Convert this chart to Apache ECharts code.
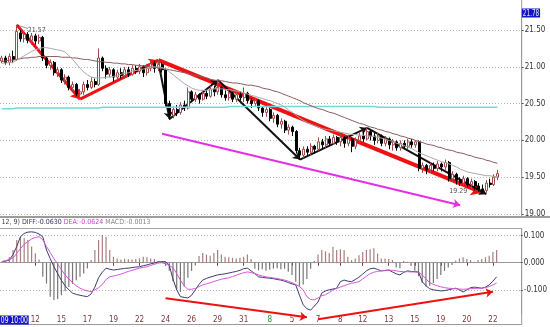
<!DOCTYPE html>
<html>
<head>
<meta charset="utf-8">
<script src="https://cdn.jsdelivr.net/npm/echarts@6/dist/echarts.min.js"></script>
<style>
  html, body { margin: 0; padding: 0; background: #ffffff; }
  #chart { width: 550px; height: 327px; }
</style>
</head>
<body>
<div id="chart"></div>
<script>
// ---- price bars: [open, close, low, high] ----
const bars = [
  [21.08,21.12,21.05,21.15],[21.12,21.06,21.03,21.15],[21.06,21.14,21.02,21.18],[21.14,21.10,21.05,21.22],[21.10,21.48,21.08,21.57],
  [21.46,21.38,21.34,21.50],[21.38,21.44,21.33,21.48],[21.44,21.36,21.32,21.47],[21.36,21.42,21.30,21.46],[21.42,21.35,21.30,21.45],
  [21.35,21.40,21.31,21.44],[21.40,21.12,21.08,21.42],[21.12,21.02,20.98,21.14],[21.02,21.06,20.96,21.10],[21.06,20.92,20.88,21.08],
  [20.92,20.96,20.86,21.00],[20.96,20.82,20.78,20.98],[20.82,20.86,20.76,20.90],[20.86,20.72,20.68,20.88],[20.72,20.76,20.66,20.80],
  [20.76,20.63,20.60,20.78],[20.63,20.66,20.56,20.70],[20.66,20.76,20.62,20.80],[20.76,20.72,20.68,20.82],[20.72,20.80,20.70,20.86],
  [20.80,20.76,20.72,20.84],[20.76,21.12,20.74,21.25],[21.12,20.98,20.94,21.14],[20.98,20.90,20.84,21.02],[20.90,20.96,20.86,21.00],
  [20.96,20.86,20.80,20.98],[20.86,20.92,20.82,20.96],[20.92,20.88,20.84,20.98],[20.88,20.96,20.84,21.00],[20.96,20.90,20.86,21.00],
  [20.90,20.98,20.88,21.02],[20.98,20.94,20.90,21.02],[20.94,21.00,20.90,21.04],[21.00,20.92,20.86,21.02],[20.92,20.98,20.88,21.04],
  [20.98,21.04,20.94,21.08],[21.04,20.98,20.92,21.08],[20.98,21.03,20.94,21.09],[21.03,20.96,20.92,21.06],[20.96,20.50,20.46,20.98],
  [20.50,20.34,20.28,20.54],[20.34,20.42,20.30,20.46],[20.42,20.38,20.33,20.48],[20.38,20.48,20.35,20.52],[20.48,20.44,20.40,20.54],
  [20.44,20.66,20.42,20.72],[20.66,20.56,20.52,20.68],[20.56,20.62,20.52,20.66],[20.62,20.56,20.50,20.64],[20.56,20.64,20.54,20.68],
  [20.64,20.60,20.56,20.68],[20.60,20.70,20.58,20.74],[20.70,20.66,20.60,20.74],[20.66,20.72,20.62,20.82],[20.72,20.62,20.58,20.74],
  [20.62,20.58,20.54,20.68],[20.58,20.64,20.54,20.68],[20.64,20.56,20.52,20.66],[20.56,20.62,20.52,20.66],[20.62,20.58,20.54,20.66],
  [20.58,20.64,20.52,20.72],[20.64,20.54,20.50,20.66],[20.54,20.50,20.44,20.58],[20.50,20.54,20.46,20.58],[20.54,20.44,20.40,20.56],
  [20.44,20.38,20.32,20.46],[20.38,20.42,20.32,20.46],[20.42,20.30,20.26,20.44],[20.30,20.34,20.24,20.38],[20.34,20.22,20.18,20.36],
  [20.22,20.26,20.16,20.30],[20.26,20.14,20.10,20.28],[20.14,20.18,20.08,20.22],[20.18,20.12,20.06,20.20],[20.12,19.86,19.82,20.14],
  [19.86,19.80,19.74,19.90],[19.80,19.88,19.76,19.92],[19.88,19.84,19.78,19.92],[19.84,19.92,19.80,19.96],[19.92,19.88,19.82,19.94],
  [19.88,19.98,19.86,20.04],[19.98,19.94,19.88,20.02],[19.94,20.02,19.90,20.06],[20.02,19.96,19.92,20.06],[19.96,20.04,19.94,20.08],
  [20.04,19.98,19.94,20.06],[19.98,20.04,19.92,20.08],[20.04,19.96,19.90,20.06],[19.96,20.02,19.92,20.08],[20.02,19.92,19.84,20.04],
  [19.92,20.00,19.88,20.04],[20.00,20.06,19.96,20.10],[20.06,20.02,19.98,20.12],[20.02,20.12,20.00,20.17],[20.12,20.06,20.00,20.14],
  [20.06,20.00,19.94,20.10],[20.00,20.06,19.96,20.10],[20.06,19.96,19.92,20.08],[19.96,20.02,19.92,20.06],[20.02,19.94,19.88,20.04],
  [19.94,19.98,19.86,20.02],[19.98,19.90,19.86,20.00],[19.90,19.96,19.86,20.00],[19.96,19.92,19.88,20.00],[19.92,19.98,19.88,20.02],
  [19.98,19.94,19.90,20.02],[19.94,19.98,19.90,20.00],[19.98,19.62,19.58,20.00],[19.62,19.66,19.56,19.70],[19.66,19.60,19.54,19.68],
  [19.60,19.66,19.56,19.70],[19.66,19.62,19.58,19.70],[19.62,19.68,19.58,19.72],[19.68,19.64,19.58,19.70],[19.64,19.70,19.60,19.74],
  [19.70,19.48,19.44,19.72],[19.48,19.54,19.44,19.58],[19.54,19.46,19.40,19.56],[19.46,19.42,19.38,19.50],[19.42,19.48,19.38,19.52],
  [19.48,19.40,19.36,19.50],[19.40,19.44,19.34,19.48],[19.44,19.38,19.32,19.46],[19.38,19.34,19.30,19.42],[19.34,19.32,19.30,19.40],
  [19.32,19.42,19.29,19.46],[19.42,19.40,19.36,19.48],[19.40,19.50,19.38,19.54],[19.50,19.55,19.46,19.60]
];

// ---- moving averages ----
const maShort = [
  21.05,21.05,21.06,21.06,21.09,21.12,21.15,21.18,21.21,21.23,
  21.25,21.26,21.26,21.25,21.24,21.23,21.22,21.20,21.15,21.10,
  21.04,20.98,20.93,20.89,20.86,20.85,20.85,20.85,20.86,20.86,
  20.87,20.88,20.90,20.91,20.92,20.94,20.95,20.96,20.97,20.98,
  21.00,21.00,21.00,20.99,20.97,20.93,20.89,20.85,20.81,20.77,
  20.74,20.71,20.69,20.68,20.68,20.68,20.69,20.70,20.70,20.70,
  20.69,20.69,20.68,20.67,20.66,20.64,20.63,20.61,20.60,20.58,
  20.57,20.55,20.54,20.52,20.50,20.48,20.45,20.41,20.38,20.34,
  20.30,20.27,20.24,20.22,20.20,20.18,20.16,20.15,20.14,20.13,
  20.12,20.11,20.10,20.09,20.08,20.08,20.07,20.07,20.06,20.06,
  20.05,20.04,20.03,20.01,20.00,19.98,19.96,19.95,19.93,19.91,
  19.89,19.86,19.83,19.81,19.79,19.77,19.75,19.73,19.71,19.70,
  19.68,19.66,19.64,19.61,19.59,19.57,19.56,19.55,19.54,19.53,
  19.52,19.52,19.51,19.51
];
const maLong = [
  21.07,21.08,21.09,21.09,21.10,21.11,21.12,21.12,21.13,21.13,
  21.14,21.14,21.14,21.14,21.14,21.14,21.13,21.13,21.13,21.12,
  21.12,21.11,21.10,21.10,21.09,21.08,21.07,21.07,21.06,21.06,
  21.05,21.05,21.04,21.04,21.03,21.03,21.02,21.02,21.01,21.01,
  21.00,20.99,20.99,20.98,20.97,20.96,20.95,20.94,20.93,20.92,
  20.91,20.89,20.88,20.87,20.86,20.85,20.83,20.82,20.81,20.81,
  20.80,20.79,20.78,20.78,20.77,20.76,20.75,20.75,20.74,20.73,
  20.71,20.70,20.69,20.67,20.66,20.64,20.62,20.60,20.58,20.56,
  20.54,20.51,20.49,20.47,20.45,20.43,20.42,20.40,20.38,20.37,
  20.35,20.33,20.31,20.29,20.27,20.25,20.23,20.22,20.20,20.18,
  20.17,20.15,20.14,20.12,20.11,20.09,20.08,20.06,20.05,20.03,
  20.02,20.00,19.98,19.97,19.95,19.94,19.93,19.91,19.90,19.88,
  19.87,19.86,19.84,19.83,19.82,19.80,19.79,19.77,19.76,19.75,
  19.73,19.72,19.70,19.69
];
const maBase = [
  20.43,20.43,20.43,20.43,20.44,20.44,20.44,20.44,20.44,20.44,
  20.44,20.44,20.44,20.44,20.44,20.44,20.44,20.44,20.44,20.44,
  20.44,20.44,20.44,20.44,20.44,20.44,20.44,20.45,20.45,20.45,
  20.45,20.45,20.45,20.45,20.45,20.45,20.45,20.45,20.45,20.45,
  20.45,20.45,20.45,20.45,20.45,20.45,20.45,20.45,20.45,20.45,
  20.45,20.45,20.45,20.45,20.45,20.45,20.45,20.45,20.45,20.45,
  20.45,20.46,20.46,20.46,20.46,20.46,20.46,20.46,20.46,20.46,
  20.46,20.46,20.46,20.46,20.46,20.46,20.46,20.46,20.46,20.46,
  20.46,20.46,20.46,20.46,20.46,20.46,20.46,20.46,20.46,20.46,
  20.46,20.46,20.46,20.46,20.46,20.46,20.46,20.46,20.46,20.46,
  20.46,20.45,20.45,20.45,20.45,20.45,20.45,20.45,20.45,20.45,
  20.45,20.45,20.45,20.45,20.45,20.45,20.45,20.45,20.45,20.45,
  20.45,20.45,20.45,20.45,20.45,20.45,20.45,20.45,20.45,20.45,
  20.45,20.45,20.45,20.45
];

// ---- MACD(26, 12, 9) ----
const diff = [
  0.004,0.006,0.010,0.030,0.060,0.096,0.108,0.113,0.114,0.112,
  0.106,0.096,0.047,0.015,-0.015,-0.040,-0.065,-0.085,-0.100,-0.112,
  -0.117,-0.120,-0.123,-0.125,-0.115,-0.090,-0.055,-0.035,-0.020,-0.024,
  -0.027,-0.025,-0.023,-0.021,-0.020,-0.018,-0.016,-0.015,-0.011,-0.008,
  -0.004,-0.001,0.003,0.004,0.004,-0.010,-0.060,-0.100,-0.125,-0.128,
  -0.130,-0.120,-0.100,-0.080,-0.064,-0.058,-0.053,-0.049,-0.045,-0.043,
  -0.041,-0.038,-0.035,-0.032,-0.028,-0.022,-0.020,-0.030,-0.040,-0.052,
  -0.054,-0.056,-0.057,-0.059,-0.062,-0.064,-0.068,-0.073,-0.078,-0.082,
  -0.120,-0.155,-0.170,-0.175,-0.160,-0.145,-0.112,-0.104,-0.100,-0.097,
  -0.094,-0.070,-0.064,-0.068,-0.070,-0.062,-0.053,-0.042,-0.030,-0.022,
  -0.020,-0.025,-0.030,-0.029,-0.027,-0.034,-0.041,-0.045,-0.036,-0.030,
  -0.032,-0.033,-0.034,-0.070,-0.085,-0.096,-0.100,-0.102,-0.104,-0.103,
  -0.100,-0.097,-0.094,-0.100,-0.108,-0.100,-0.092,-0.090,-0.092,-0.094,
  -0.090,-0.082,-0.068,-0.052
];
const dea = [
  0.004,0.008,0.012,0.017,0.035,0.052,0.068,0.078,0.088,0.093,
  0.096,0.085,0.060,0.038,0.015,-0.005,-0.025,-0.045,-0.060,-0.073,
  -0.085,-0.094,-0.100,-0.104,-0.107,-0.100,-0.092,-0.080,-0.062,-0.052,
  -0.049,-0.046,-0.042,-0.037,-0.032,-0.028,-0.024,-0.020,-0.017,-0.015,
  -0.010,-0.006,-0.001,0.000,-0.004,-0.010,-0.018,-0.040,-0.064,-0.085,
  -0.098,-0.098,-0.095,-0.088,-0.082,-0.078,-0.074,-0.069,-0.065,-0.061,
  -0.058,-0.056,-0.051,-0.046,-0.041,-0.037,-0.034,-0.036,-0.040,-0.045,
  -0.049,-0.052,-0.054,-0.056,-0.058,-0.061,-0.064,-0.068,-0.074,-0.080,
  -0.088,-0.100,-0.125,-0.136,-0.137,-0.130,-0.122,-0.118,-0.110,-0.100,
  -0.095,-0.090,-0.085,-0.080,-0.076,-0.073,-0.070,-0.060,-0.050,-0.040,
  -0.035,-0.032,-0.030,-0.028,-0.027,-0.028,-0.030,-0.032,-0.033,-0.033,
  -0.034,-0.034,-0.035,-0.045,-0.060,-0.073,-0.080,-0.085,-0.089,-0.092,
  -0.094,-0.095,-0.096,-0.097,-0.098,-0.097,-0.096,-0.095,-0.094,-0.094,
  -0.092,-0.088,-0.082,-0.075
];
const macdHist = [
  0.000,0.005,0.020,0.047,0.084,0.096,0.090,0.084,0.060,0.035,
  0.012,-0.052,-0.077,-0.126,-0.138,-0.134,-0.120,-0.105,-0.090,-0.078,
  -0.065,-0.052,-0.040,-0.021,0.010,0.047,0.084,0.102,0.096,0.047,
  0.022,0.016,0.012,0.015,0.013,0.012,0.014,0.016,0.022,0.020,
  0.016,0.014,0.006,0.004,-0.012,-0.030,-0.068,-0.100,-0.108,-0.088,
  -0.055,-0.030,-0.010,0.025,0.036,0.030,0.026,0.036,0.047,0.030,
  0.022,0.020,0.018,0.016,0.018,0.022,0.030,0.014,-0.022,-0.028,
  -0.024,-0.030,-0.026,-0.022,-0.020,-0.024,-0.022,-0.033,-0.045,-0.070,
  -0.088,-0.080,-0.060,-0.022,0.006,0.030,0.047,0.042,0.036,0.059,
  0.047,0.050,0.047,0.022,0.010,0.016,0.028,0.040,0.047,0.050,
  0.053,0.034,0.016,0.016,0.014,0.010,-0.018,-0.020,0.006,0.004,
  -0.012,-0.030,-0.050,-0.075,-0.088,-0.085,-0.075,-0.060,-0.045,-0.030,
  -0.018,-0.008,0.008,0.016,0.020,0.014,0.010,0.004,0.010,0.014,
  0.020,0.026,0.040,0.047
];

// ---- time axis ----
const slotCount = 140;                 // bar slots on the axis (last few are still empty)
const tickBars = [9,16,23,30,37,44,51,58,65,72,78,85,91,97,104,111,118,125,132];
const tickDays = ['12','15','17','19','22','24','26','29','31','8','5','7','8','12','13','15','19','20','22'];
const monthStartBar = 72;              // first bar of the new month
const cursorTime = '09 10:00';
const cursorPrice = 21.78;

// ---- drawn trend annotations: [bar, price] ----
const redSwings = [[[4,21.57],[21,20.56]], [[21,20.56],[42,21.09]]];
const redTrend = [[42,21.09],[129,19.29]];
const blackPath = [[42,21.06],[45,20.29],[58,20.82],[80,19.74],[98,20.17],[130,19.27]];
const magentaTrend = [[43,20.09],[123,19.12]];
const macdArrows = [[[44,-0.131],[82,-0.2015]], [[85,-0.209],[132,-0.107]]];
const peakBar = 4, lowBar = 130;

const legendText = { params: '(26, 12, 9)', diff: '-0.0630', dea: '-0.0624', macd: '-0.0013' };

// ---- build ----
const categories = Array.from({ length: slotCount }, () => '');
tickBars.forEach((b, k) => { categories[b] = tickDays[k]; });

const FONT = "'Liberation Sans Narrow', 'DejaVu Sans Condensed', 'Liberation Sans', sans-serif";
const plotRight = 28.3;

const chart = echarts.init(document.getElementById('chart'), null, { renderer: 'canvas' });

function segs(path) {
  const out = [];
  for (let k = 0; k < path.length - 1; k++) out.push({ coords: [path[k], path[k + 1]] });
  return out;
}

const arrowBase = { type: 'lines', coordinateSystem: 'cartesian2d', clip: false, silent: true,
  symbol: ['none', 'arrow'], zlevel: 0 };

chart.setOption({
  animation: false,
  backgroundColor: '#ffffff',
  grid: [
    { left: 0, right: plotRight, top: 9.4, height: 204.6 },
    { left: 0, right: plotRight, top: 228.6, height: 85.6 }
  ],
  xAxis: [
    { type: 'category', gridIndex: 0, data: categories, boundaryGap: true,
      axisLine: { show: false }, axisTick: { show: false }, axisLabel: { show: false }, splitLine: { show: false } },
    { type: 'category', gridIndex: 1, data: categories, boundaryGap: true,
      axisLine: { show: true, lineStyle: { color: '#9a9a9a', width: 1 } },
      axisTick: { show: true, alignWithLabel: true, length: 3, interval: (i, v) => v !== '', lineStyle: { color: '#7a3a3a' } },
      axisLabel: { show: true, interval: (i, v) => v !== '', margin: 2, fontSize: 8, fontFamily: FONT, color: '#803838',
        formatter: (v, i) => (i === monthStartBar ? '{g|' + v + '}' : v),
        rich: { g: { color: '#2a8a2a', fontSize: 8, fontFamily: FONT } } },
      splitLine: { show: false } }
  ],
  yAxis: [
    { type: 'value', gridIndex: 0, position: 'right', min: 19, max: cursorPrice, interval: 0.5,
      axisLine: { show: true, lineStyle: { color: '#9a9a9a' } },
      axisTick: { show: true, length: 2, lineStyle: { color: '#555' } },
      axisLabel: { fontSize: 8, fontFamily: FONT, color: '#333', margin: 3, showMaxLabel: false,
        formatter: v => v.toFixed(2) },
      splitLine: { show: true, showMaxLine: false, lineStyle: { color: '#b8b8b8', type: [1, 2] } } },
    { type: 'value', gridIndex: 1, position: 'right', min: -0.19, max: 0.126, splitNumber: 3,
      axisLine: { show: true, lineStyle: { color: '#9a9a9a' } },
      axisTick: { show: true, length: 2, lineStyle: { color: '#555' } },
      axisLabel: { fontSize: 8, fontFamily: FONT, color: '#333', margin: 3, showMinLabel: false, showMaxLabel: false,
        formatter: v => v.toFixed(3) },
      splitLine: { show: true, showMinLine: false, showMaxLine: false, lineStyle: { color: '#b8b8b8', type: [1, 2] } } }
  ],
  series: [
    { name: 'base', type: 'line', xAxisIndex: 0, yAxisIndex: 0, data: maBase, symbol: 'none',
      lineStyle: { color: '#74d9d9', width: 1.5 }, silent: true },
    { name: 'maLong', type: 'line', xAxisIndex: 0, yAxisIndex: 0, data: maLong, symbol: 'none',
      lineStyle: { color: '#8e5c5c', width: 1 }, silent: true },
    { name: 'maShort', type: 'line', xAxisIndex: 0, yAxisIndex: 0, data: maShort, symbol: 'none',
      lineStyle: { color: '#a9a9a9', width: 1 }, silent: true },
    { name: 'price', type: 'candlestick', xAxisIndex: 0, yAxisIndex: 0, data: bars, barWidth: 2.5,
      itemStyle: { color: '#ffffff', color0: '#000000', borderColor: '#a04a4a', borderColor0: '#000000', borderWidth: 1 } },
    // price labels at the swing extremes
    { type: 'scatter', xAxisIndex: 0, yAxisIndex: 0, symbolSize: 0.1, itemStyle: { color: 'rgba(0,0,0,0)' }, silent: true,
      data: [[peakBar, bars[peakBar][3]]],
      label: { show: true, position: 'right', distance: 11, offset: [0, 5], fontSize: 7, fontFamily: FONT, color: '#222',
        formatter: p => p.value[1].toFixed(2) } },
    { type: 'scatter', xAxisIndex: 0, yAxisIndex: 0, symbolSize: 0.1, itemStyle: { color: 'rgba(0,0,0,0)' }, silent: true,
      data: [[lowBar, bars[lowBar][2]]],
      label: { show: true, position: 'left', distance: 19, offset: [0, -1], fontSize: 7, fontFamily: FONT, color: '#222',
        formatter: p => p.value[1].toFixed(2) } },
    Object.assign({}, arrowBase, { xAxisIndex: 0, yAxisIndex: 0, symbol: ['none', 'none'],
      lineStyle: { color: '#333', width: 1 }, data: [{ coords: [[peakBar, bars[peakBar][3]], [peakBar + 3, 21.52]] }] }),
    Object.assign({}, arrowBase, { xAxisIndex: 0, yAxisIndex: 0, symbolSize: 9,
      lineStyle: { color: '#ee1111', width: 3, opacity: 1 }, data: redSwings.map(c => ({ coords: c })) }),
    Object.assign({}, arrowBase, { xAxisIndex: 0, yAxisIndex: 0, symbolSize: 11,
      lineStyle: { color: '#ee1111', width: 4, opacity: 1 }, data: [{ coords: redTrend }] }),
    Object.assign({}, arrowBase, { xAxisIndex: 0, yAxisIndex: 0, symbolSize: 7,
      lineStyle: { color: '#111111', width: 2, opacity: 1 }, data: segs(blackPath) }),
    Object.assign({}, arrowBase, { xAxisIndex: 0, yAxisIndex: 0, symbolSize: 7,
      lineStyle: { color: '#e62ee6', width: 2, opacity: 1 }, data: [{ coords: magentaTrend }] }),

    { name: 'MACD', type: 'bar', xAxisIndex: 1, yAxisIndex: 1, data: macdHist, barWidth: 1.2, silent: true,
      itemStyle: { color: p => (p.value >= 0 ? '#a67f7f' : '#767676') } },
    { name: 'DIFF', type: 'line', xAxisIndex: 1, yAxisIndex: 1, data: diff, symbol: 'none', silent: true,
      lineStyle: { color: '#3c3c70', width: 1 } },
    { name: 'DEA', type: 'line', xAxisIndex: 1, yAxisIndex: 1, data: dea, symbol: 'none', silent: true,
      lineStyle: { color: '#d45ad4', width: 1 } },
    Object.assign({}, arrowBase, { xAxisIndex: 1, yAxisIndex: 1, symbolSize: 7, z: 10,
      lineStyle: { color: '#ee1111', width: 2, opacity: 1 }, data: macdArrows.map(c => ({ coords: c })) })
  ],
  graphic: [
    // panel frames
    { type: 'rect', shape: { x: 0, y: 216, width: 550, height: 2 }, style: { fill: '#9c9c9c' }, silent: true },
    { type: 'line', shape: { x1: 0, y1: 228.5, x2: 522, y2: 228.5 }, style: { stroke: '#a4a4a4', lineWidth: 1 }, silent: true },
    { type: 'line', shape: { x1: 521.7, y1: 0, x2: 521.7, y2: 216 }, style: { stroke: '#9a9a9a', lineWidth: 1 }, silent: true },
    { type: 'line', shape: { x1: 521.7, y1: 228.5, x2: 521.7, y2: 325 }, style: { stroke: '#9a9a9a', lineWidth: 1 }, silent: true },
    { type: 'line', shape: { x1: 0, y1: 324.5, x2: 522, y2: 324.5 }, style: { stroke: '#9a9a9a', lineWidth: 1 }, silent: true },
    // cursor readouts (condensed boxes)
    { type: 'text', x: 0, y: 315.5, scaleX: 0.84, z: 100, silent: true,
      style: { text: cursorTime, font: '8px ' + FONT, fill: '#ffffff', backgroundColor: '#1515c8', padding: [1, 1, 0, 1] } },
    { type: 'text', x: 522, y: 8.5, scaleX: 0.8, z: 100, silent: true,
      style: { text: cursorPrice.toFixed(2), font: '8px ' + FONT, fill: '#e8e8ff', backgroundColor: '#1515c8', padding: [1, 1, 0, 1] } },
    // indicator legend line
    { type: 'text', x: -13, y: 218.5, z: 100, silent: true,
      style: {
        text: '{k|' + legendText.params + '} {d|DIFF:' + legendText.diff + '} {e|DEA:' + legendText.dea + '} {m|MACD:' + legendText.macd + '}',
        font: '7px ' + FONT,
        rich: {
          k: { fill: '#444', font: '7px ' + FONT },
          d: { fill: '#35356a', font: '7px ' + FONT },
          e: { fill: '#d040d0', font: '7px ' + FONT },
          m: { fill: '#888888', font: '7px ' + FONT }
        }
      } }
  ]
});
</script>
</body>
</html>
